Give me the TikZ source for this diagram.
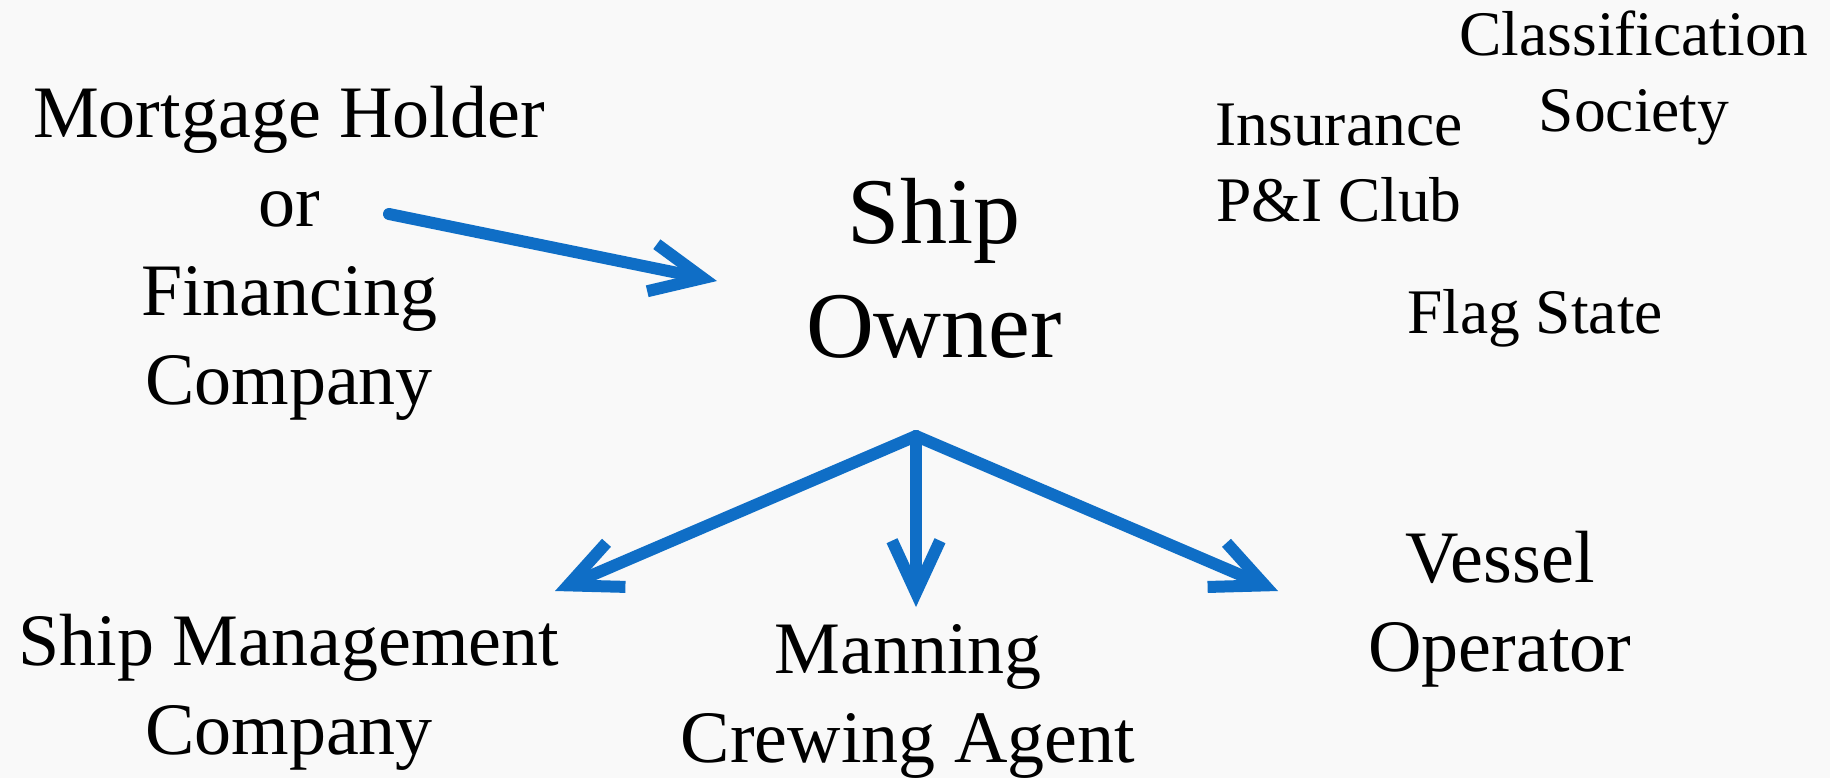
\documentclass[tikz,border=0pt]{standalone}
\usepackage{fontspec}
\setmainfont{Liberation Serif}
\usetikzlibrary{arrows.meta}
\definecolor{arrowblue}{RGB}{15,110,198}
\definecolor{bgcol}{RGB}{249,249,249}
\newcommand{\stack}[1]{\begin{tabular}[t]{@{}c@{}}#1\end{tabular}}
\tikzset{
  lbl/.style={anchor=base, inner sep=0pt, outer sep=0pt, text=black},
  bigtxt/.style={lbl, font=\fontsize{47}{57}\selectfont},
  normtxt/.style={lbl, font=\fontsize{37}{44.5}\selectfont},
  smalltxt/.style={lbl, font=\fontsize{31.75}{38}\selectfont},
  link/.style={draw=arrowblue, line width=6pt, line cap=round,
    -{Straight Barb[length=26pt,width=24pt]}}
}
\begin{document}
\begin{tikzpicture}[x=0.5pt, y=-0.5pt]
\fill[bgcol] (0,0) rectangle (1830,778);
\useasboundingbox (0,0) rectangle (1830,778);

\node[normtxt] (mort) at (289,137) {\stack{Mortgage Holder\\or\\Financing\\Company}};
\node[bigtxt] (owner) at (934,243) {\stack{Ship\\Owner}};
\node[smalltxt] (ins) at (1339,145) {\stack{Insurance\\P\&I Club}};
\node[smalltxt] (cls) at (1634,55) {\stack{Classification\\Society}};
\node[smalltxt] (flag) at (1535,333) {Flag State};
\node[normtxt] (sm) at (289,665) {\stack{Ship Management\\Company}};
\node[normtxt] (mc) at (908,673) {\stack{Manning\\Crewing Agent}};
\node[normtxt] (vo) at (1500,582) {\stack{Vessel\\Operator}};

\coordinate (mortOut) at (389,214);
\coordinate (ownerIn) at (717,281);
\coordinate (ownerOut) at (916,436);
\coordinate (smIn) at (555,591);
\coordinate (mcIn) at (916,607);
\coordinate (voIn) at (1278,591);

\draw[link] (mortOut) -- (ownerIn);
\draw[link] (ownerOut) -- (smIn);
\draw[link] (ownerOut) -- (mcIn);
\draw[link] (ownerOut) -- (voIn);
\end{tikzpicture}
\end{document}
